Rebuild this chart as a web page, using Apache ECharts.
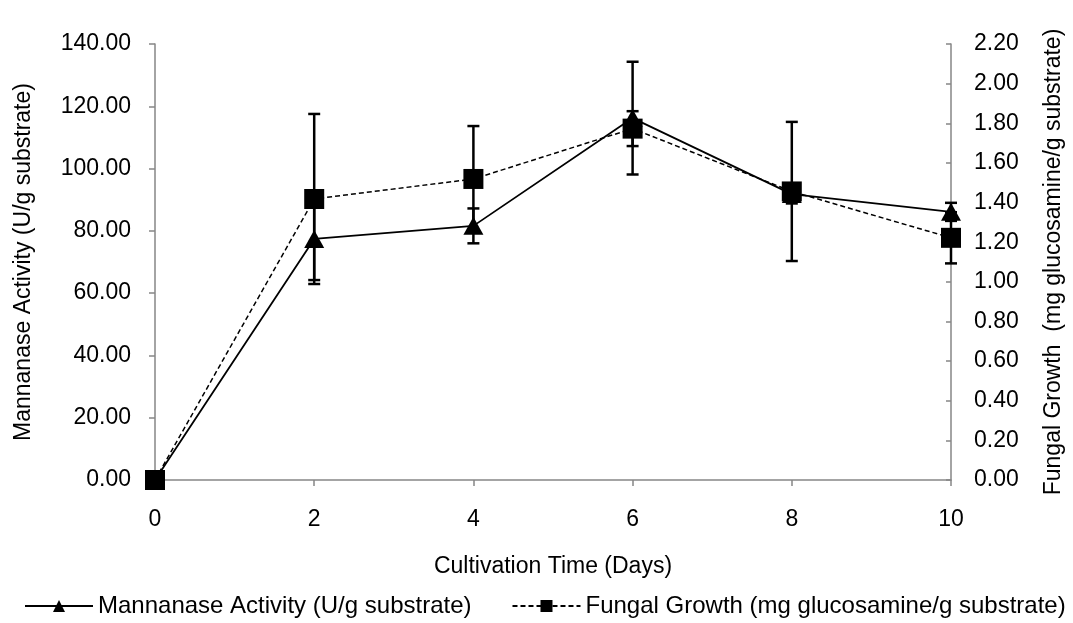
<!DOCTYPE html>
<html>
<head>
<meta charset="utf-8">
<script src="https://cdn.jsdelivr.net/npm/echarts@6/dist/echarts.min.js"></script>
<style>
  html, body { margin: 0; padding: 0; background: #fff; }
  #chart { width: 1073px; height: 623px; }
</style>
</head>
<body>
<div id="chart"></div>
<script>
const days = [0, 2, 4, 6, 8, 10];
const mannanase = [0, 77.4, 81.6, 116.2, 91.8, 86.1];
const mannanaseErr = [0, 13.2, 5.6, 18.1, 3.0, 2.9];
const fungal = [0, 1.418, 1.519, 1.773, 1.456, 1.222];
const fungalErr = [0, 0.429, 0.267, 0.088, 0.351, 0.129];

const FONT = '"Liberation Sans", Arial, sans-serif';
const AXIS_GREY = '#868686';

const chart = echarts.init(document.getElementById('chart'));

const pairs = (ys) => days.map((d, i) => [d, ys[i]]);
const errRows = (ys, es) =>
  days.map((d, i) => [d, ys[i] - es[i], ys[i] + es[i]]).filter((r, i) => es[i] > 0);

// vertical error bar with caps
function renderErr(params, api) {
  const x = api.value(0);
  const lo = api.coord([x, api.value(1)]);
  const hi = api.coord([x, api.value(2)]);
  const cap = 6;
  const style = { stroke: '#000', lineWidth: 2.5 };
  return {
    type: 'group',
    children: [
      { type: 'line', shape: { x1: lo[0], y1: lo[1], x2: hi[0], y2: hi[1] }, style },
      { type: 'line', shape: { x1: hi[0] - cap, y1: hi[1], x2: hi[0] + cap, y2: hi[1] }, style },
      { type: 'line', shape: { x1: lo[0] - cap, y1: lo[1], x2: lo[0] + cap, y2: lo[1] }, style }
    ]
  };
}

const option = {
  animation: false,
  textStyle: { fontFamily: FONT },
  grid: { left: 155, right: 121, top: 44, bottom: 143 },
  legend: {
    data: ['Mannanase Activity (U/g substrate)', 'Fungal Growth (mg glucosamine/g substrate)'],
    orient: 'horizontal',
    left: 24,
    width: 1045,
    bottom: 0,
    padding: [5, 0, 5, 0],
    itemWidth: 68,
    itemHeight: 15,
    itemGap: 40,
    textStyle: { fontSize: 24, color: '#000', fontFamily: FONT }
  },
  xAxis: {
    type: 'value',
    min: 0,
    max: 10,
    interval: 2,
    name: 'Cultivation Time (Days)',
    nameLocation: 'middle',
    nameGap: 75,
    nameTextStyle: { fontSize: 23, color: '#000' },
    axisLine: { lineStyle: { color: AXIS_GREY, width: 1.5 } },
    axisTick: { lineStyle: { color: AXIS_GREY, width: 1.5 }, length: 6 },
    axisLabel: { fontSize: 23, color: '#000', margin: 28 },
    splitLine: { show: false }
  },
  yAxis: [
    {
      type: 'value',
      min: 0,
      max: 140,
      interval: 20,
      name: 'Mannanase Activity (U/g substrate)',
      nameLocation: 'middle',
      nameGap: 120,
      nameTextStyle: { fontSize: 23, color: '#000' },
      axisLine: { show: true, lineStyle: { color: AXIS_GREY, width: 1.5 } },
      axisTick: { show: true, lineStyle: { color: AXIS_GREY, width: 1.5 }, length: 6 },
      axisLabel: { fontSize: 23, color: '#000', margin: 24, formatter: (v) => v.toFixed(2) },
      splitLine: { show: false }
    },
    {
      type: 'value',
      position: 'right',
      min: 0,
      max: 2.2,
      interval: 0.2,
      name: 'Fungal Growth  (mg glucosamine/g substrate)',
      nameLocation: 'middle',
      nameGap: 91,
      nameTextStyle: { fontSize: 23, color: '#000' },
      axisLine: { show: true, lineStyle: { color: AXIS_GREY, width: 1.5 } },
      axisTick: { show: true, inside: true, lineStyle: { color: AXIS_GREY, width: 1.5 }, length: 5 },
      axisLabel: { fontSize: 23, color: '#000', margin: 23, formatter: (v) => v.toFixed(2) },
      splitLine: { show: false }
    }
  ],
  series: [
    {
      name: 'Mannanase Activity (U/g substrate)',
      type: 'line',
      yAxisIndex: 0,
      data: pairs(mannanase),
      symbol: 'triangle',
      symbolSize: [20, 18],
      itemStyle: { color: '#000' },
      lineStyle: { color: '#000', width: 1.8, type: 'solid' },
      z: 3
    },
    {
      name: 'Fungal Growth (mg glucosamine/g substrate)',
      type: 'line',
      yAxisIndex: 1,
      data: pairs(fungal),
      symbol: 'rect',
      symbolSize: 20,
      itemStyle: { color: '#000' },
      lineStyle: { color: '#000', width: 1.5, type: [5, 3] },
      z: 4
    },
    {
      name: 'mannanase-err',
      type: 'custom',
      yAxisIndex: 0,
      data: errRows(mannanase, mannanaseErr),
      encode: { x: 0, y: [1, 2] },
      renderItem: renderErr,
      z: 5
    },
    {
      name: 'fungal-err',
      type: 'custom',
      yAxisIndex: 1,
      data: errRows(fungal, fungalErr),
      encode: { x: 0, y: [1, 2] },
      renderItem: renderErr,
      z: 5
    }
  ]
};

chart.setOption(option);
</script>
</body>
</html>
